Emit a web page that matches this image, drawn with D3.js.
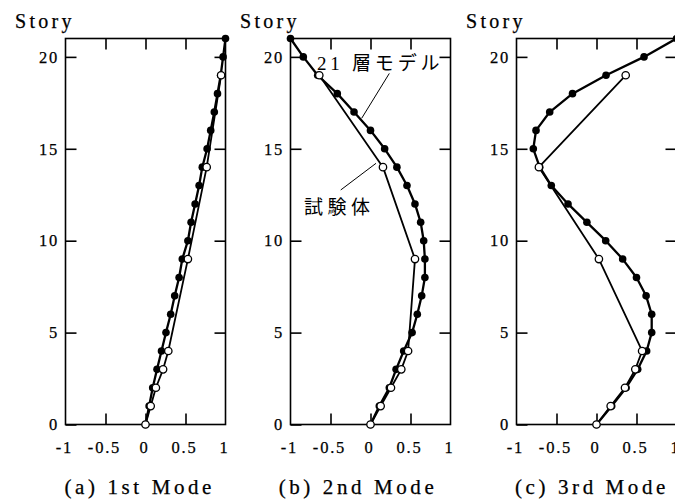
<!DOCTYPE html>
<html>
<head>
<meta charset="utf-8">
<script src="https://cdn.jsdelivr.net/npm/d3@7/dist/d3.min.js"></script>
<style>
  html, body { margin: 0; padding: 0; background: #fff; }
  svg { display: block; }
</style>
</head>
<body>
<div id="chart"></div>
<script>
// ---------------- data ----------------
const storiesModel = [0,1,2,3,4,5,6,7,8,9,10,11,12,13,14,15,16,17,18,19,20,21];
const storiesTest  = [0,1,2,3,4,9,14,19];

const model1st = [0, 0.045, 0.09, 0.144, 0.2, 0.256, 0.315, 0.365, 0.42, 0.46, 0.53, 0.57, 0.62, 0.67, 0.71, 0.77, 0.815, 0.86, 0.9, 0.94, 0.97, 1.0];
const test1st  = [0, 0.065, 0.13, 0.22, 0.285, 0.53, 0.765, 0.945];

const model2nd = [0, 0.11, 0.235, 0.32, 0.415, 0.52, 0.585, 0.64, 0.68, 0.68, 0.665, 0.627, 0.556, 0.456, 0.33, 0.177, 0.0, -0.206, -0.415, -0.66, -0.84, -1.0];
const test2nd  = [0, 0.127, 0.256, 0.385, 0.47, 0.556, 0.156, -0.64];

const model3rd = [0, 0.19, 0.37, 0.515, 0.627, 0.69, 0.69, 0.62, 0.5, 0.327, 0.115, -0.12, -0.356, -0.565, -0.71, -0.79, -0.756, -0.585, -0.3, 0.119, 0.594, 1.0];
const test3rd  = [0, 0.177, 0.356, 0.485, 0.57, 0.03, -0.72, 0.365];

const panelTitles = ["(a) 1st Mode", "(b) 2nd Mode", "(c) 3rd Mode"];
const xTickLabels = [-1, -0.5, 0, 0.5, 1];
const xInnerTicks = [-0.5, 0, 0.5];
const yTickLabels = [0, 5, 10, 15, 20];
const yAxisTitle = "Story";
const labelModel = "21 層モデル";
const labelTest = "試験体";

// ---------------- layout ----------------
const W = 675, H = 499;
const plotW = 160, plotTop = 38.5, plotBottom = 424.5;
const panelLefts = [65.5, 290.5, 516.5];
const titleDx = [-5.7, -12.5, -4.5];

const latin = (size, ls) =>
  `font-family:'Liberation Serif';font-size:${size}px;letter-spacing:${ls}px;fill:#000;stroke:#000;stroke-width:0.25px`;
const cjkStyle = (size, ls) =>
  `font-family:'Liberation Serif','Noto Sans CJK JP';font-size:${size}px;letter-spacing:${ls}px;fill:#000`;

const svg = d3.select("#chart").append("svg")
  .attr("width", W).attr("height", H)
  .attr("viewBox", `0 0 ${W} ${H}`);

const series = [
  { model: model1st, test: test1st },
  { model: model2nd, test: test2nd },
  { model: model3rd, test: test3rd }
];

series.forEach((s, i) => {
  const left = panelLefts[i];
  const x = d3.scaleLinear().domain([-1, 1]).range([left, left + plotW]);
  const y = d3.scaleLinear().domain([0, 21]).range([plotBottom, plotTop]);
  const g = svg.append("g");

  const styleAxis = sel => {
    sel.attr("font-family", null).attr("font-size", null);
    sel.select(".domain").remove();
    sel.selectAll(".tick line").attr("stroke", "#000").attr("stroke-width", 1.6);
    sel.selectAll(".tick text").attr("style", latin(16.5, 1.8));
  };
  g.append("g").attr("transform", `translate(0,${plotBottom})`)
    .call(d3.axisBottom(x).tickValues(xTickLabels).tickSizeInner(0).tickSizeOuter(0)
      .tickPadding(16.5).tickFormat(d => String(d)))
    .call(styleAxis)
    .selectAll(".tick text").attr("dx", -1.5);
  g.append("g").attr("transform", `translate(0,${plotBottom})`)
    .call(d3.axisBottom(x).tickValues(xInnerTicks).tickSizeInner(-11).tickSizeOuter(0).tickFormat(""))
    .call(styleAxis);
  g.append("g").attr("transform", `translate(0,${plotTop})`)
    .call(d3.axisTop(x).tickValues(xInnerTicks).tickSizeInner(-11).tickSizeOuter(0).tickFormat(""))
    .call(styleAxis);
  g.append("g").attr("transform", `translate(${left},0)`)
    .call(d3.axisLeft(y).tickValues(yTickLabels).tickSizeInner(-11).tickSizeOuter(0)
      .tickPadding(6.5).tickFormat(d => String(d)))
    .call(styleAxis);
  g.append("g").attr("transform", `translate(${left + plotW},0)`)
    .call(d3.axisRight(y).tickValues(yTickLabels.slice(1)).tickSizeInner(-11).tickSizeOuter(0).tickFormat(""))
    .call(styleAxis);

  g.append("rect")
    .attr("x", x(-1)).attr("y", y(21))
    .attr("width", x(1) - x(-1)).attr("height", y(0) - y(21))
    .attr("fill", "none").attr("stroke", "#000").attr("stroke-width", 1.6);

  const modelPts = storiesModel.map((st, k) => ({ s: st, v: s.model[k] }));
  const testPts = storiesTest.map((st, k) => ({ s: st, v: s.test[k] }));
  const line = d3.line().x(d => x(d.v)).y(d => y(d.s));

  g.append("path").attr("d", line(modelPts))
    .attr("fill", "none").attr("stroke", "#000").attr("stroke-width", 2.3)
    .attr("stroke-linejoin", "round");
  g.append("path").attr("d", line(testPts))
    .attr("fill", "none").attr("stroke", "#000").attr("stroke-width", 1.8)
    .attr("stroke-linejoin", "round");

  g.selectAll("circle.m").data(modelPts).join("circle").attr("class", "m")
    .attr("cx", d => x(d.v)).attr("cy", d => y(d.s)).attr("r", 3.8)
    .attr("fill", "#000");
  g.selectAll("circle.t").data(testPts).join("circle").attr("class", "t")
    .attr("cx", d => x(d.v)).attr("cy", d => y(d.s)).attr("r", 3.7)
    .attr("fill", "#fff").attr("stroke", "#000").attr("stroke-width", 1.3);

  svg.append("text").text(yAxisTitle)
    .attr("x", left - 50.5).attr("y", 28.3)
    .attr("style", latin(20, 3.3));

  svg.append("text").text(panelTitles[i])
    .attr("x", (x(-1) + x(1)) / 2 + titleDx[i]).attr("y", 494)
    .attr("text-anchor", "middle")
    .attr("style", latin(21, 3.6));

  if (i === 1) {
    g.append("line")
      .attr("x1", x(0.235)).attr("y1", y(19.1))
      .attr("x2", x(-0.11)).attr("y2", y(16.66))
      .attr("stroke", "#000").attr("stroke-width", 1);
    g.append("line")
      .attr("x1", x(-0.372)).attr("y1", y(12.76))
      .attr("x2", x(0.069)).attr("y2", y(14.21))
      .attr("stroke", "#000").attr("stroke-width", 1);
    g.append("text").text(labelModel)
      .attr("x", x(-0.67)).attr("y", y(19.3))
      .attr("style", cjkStyle(19, 3.8));
    g.append("text").text(labelTest)
      .attr("x", x(-0.83)).attr("y", y(11.45))
      .attr("style", cjkStyle(19, 4.5));
  }
});
</script>
</body>
</html>
